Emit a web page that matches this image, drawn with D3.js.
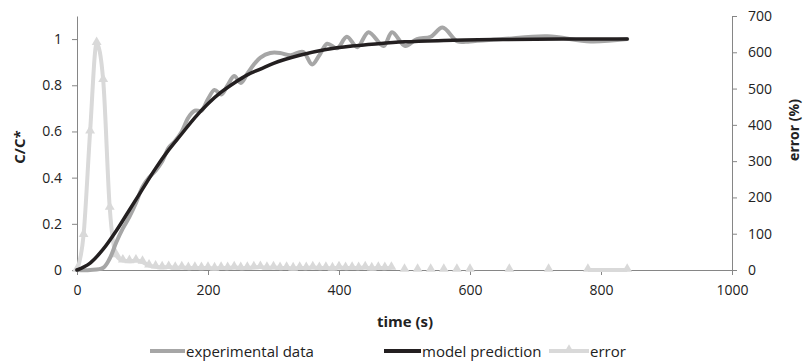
<!DOCTYPE html>
<html><head><meta charset="utf-8">
<script src="https://cdn.jsdelivr.net/npm/d3@7/dist/d3.min.js"></script>
<style>body{margin:0;background:#fff}svg{display:block}text{font-family:"Open Sans",sans-serif}</style>
</head><body><svg id="c" width="803" height="361"></svg>
<script>
// ---- data ----
const expTime = [0,20,40,50,60,70,80,90,100,110,120,130,140,150,160,170,180,190,200,210,220,230,240,250,260,270,280,295,310,326,345,359,370,382,397,412,428,445,468,481,501,519,540,558,581,600,650,718,784,840];
const expC    = [0,0,0.01,0.05,0.12,0.18,0.23,0.29,0.36,0.40,0.43,0.47,0.53,0.56,0.60,0.66,0.69,0.69,0.74,0.78,0.76,0.80,0.84,0.81,0.85,0.89,0.92,0.94,0.94,0.93,0.945,0.89,0.93,0.98,0.96,1.01,0.965,1.03,0.97,1.03,0.97,1.0,1.01,1.05,0.99,0.99,1.0,1.012,0.99,1.0];
const modelTime = [0,20,40,60,80,100,120,140,160,180,200,220,240,260,280,300,340,380,420,460,500,560,640,740,840];
const modelC    = [0,0.03,0.09,0.17,0.26,0.35,0.44,0.52,0.59,0.66,0.72,0.77,0.81,0.845,0.87,0.895,0.93,0.955,0.97,0.98,0.988,0.994,0.998,1.0,1.0];
const errTime = [0,10,20,30,40,50,60,70,80,90,100,110,120,130,140,150,160,170,180,190,200,210,220,230,240,250,260,270,280,290,300,310,320,330,340,350,360,370,380,390,400,410,420,430,440,450,460,470,480,490,500,510,520,530,540,550,560,570,580,590,600,630,660,690,720,750,780,840];
const errPct  = [0,96,381,625,523,171,40,26,24,26,22,12,9,7,8,6,7,5,6,5,6,4,6,5,7,5,6,7,8,6,7,5,6,4,6,5,7,5,6,4,7,5,6,5,7,4,6,5,6,null,0,null,0,null,0,null,0,null,0,null,0,null,0,null,0,null,0,0];
const xTicks = [0,200,400,600,800,1000];
const yLeftTicks = [0,0.2,0.4,0.6,0.8,1];
const yRightTicks = [0,100,200,300,400,500,600,700];
const legendLabels = ["experimental data","model prediction","error"];

// ---- chart ----
const svg = d3.select("#c");
const x = d3.scaleLinear().domain([0,1000]).range([77,732]);
const yL = d3.scaleLinear().domain([0,1.1]).range([270,16]);
const yR = d3.scaleLinear().domain([0,700]).range([270,16]);
const axisCol = "#868686", fs = "14px", fsBig = "15px";

function styleAxis(g){
  g.selectAll("path,line").attr("stroke",axisCol);
  g.selectAll("text").attr("fill","#222").style("font-size",fs);
}
svg.append("g").attr("transform","translate(0,270)")
  .call(d3.axisBottom(x).tickValues(xTicks).tickSize(5).tickSizeOuter(0).tickPadding(10).tickFormat(d3.format("d")))
  .call(styleAxis);
svg.append("g").attr("transform","translate(77,0)")
  .call(d3.axisLeft(yL).tickValues(yLeftTicks).tickSize(5).tickSizeOuter(0).tickPadding(10).tickFormat(d=>d3.format("~g")(d)))
  .call(styleAxis);
svg.append("g").attr("transform","translate(732,0)")
  .call(d3.axisRight(yR).tickValues(yRightTicks).tickSize(5).tickSizeOuter(0).tickPadding(11).tickFormat(d3.format("d")))
  .call(styleAxis);

// titles
svg.append("text").attr("x",405).attr("y",321).attr("text-anchor","middle").attr("dominant-baseline","central")
  .style("font-size",fsBig).style("font-weight","bold").attr("fill","#222").text("time (s)");
svg.append("text").attr("transform","translate(19,147) rotate(-90)").attr("text-anchor","middle").attr("dominant-baseline","central")
  .style("font-size",fsBig).style("font-weight","bold").attr("fill","#222").text("C/C*");
svg.append("text").attr("transform","translate(793,130) rotate(-90)").attr("text-anchor","middle").attr("dominant-baseline","central")
  .style("font-size",fs).style("font-weight","bold").attr("fill","#222").text("error (%)");

const expData = expTime.map((t,i)=>({t,v:expC[i]}));
const modData = modelTime.map((t,i)=>({t,v:modelC[i]}));
const errData = errTime.map((t,i)=>({t,v:errPct[i]}));

const colExp="#a6a6a6", colMod="#231f20", colErr="#d9d9d9";
const tri = d3.symbol().type(d3.symbolTriangle).size(42);

// error series
svg.append("path").datum(errData)
  .attr("d", d3.line().defined(d=>d.v!==null).x(d=>x(d.t)).y(d=>yR(d.v)).curve(d3.curveMonotoneX))
  .attr("fill","none").attr("stroke",colErr).attr("stroke-width",4).attr("stroke-linejoin","round");
svg.append("g").selectAll("path").data(errData.filter(d=>d.v!==null)).join("path")
  .attr("d",tri).attr("transform",d=>`translate(${x(d.t)},${yR(d.v)-1})`).attr("fill",colErr);

// experimental
svg.append("path").datum(expData)
  .attr("d", d3.line().x(d=>x(d.t)).y(d=>yL(d.v)).curve(d3.curveCatmullRom.alpha(0.5)))
  .attr("fill","none").attr("stroke",colExp).attr("stroke-width",4).attr("stroke-linejoin","round").attr("stroke-linecap","round");
// model
svg.append("path").datum(modData)
  .attr("d", d3.line().x(d=>x(d.t)).y(d=>yL(d.v)).curve(d3.curveMonotoneX))
  .attr("fill","none").attr("stroke",colMod).attr("stroke-width",3.5).attr("stroke-linecap","round");

// legend
const ly = 351;
const leg = [
  {x0:150,x1:185,col:colExp,w:4,label:legendLabels[0],tri:false},
  {x0:384,x1:421,col:colMod,w:4,label:legendLabels[1],tri:false},
  {x0:549,x1:589,col:colErr,w:4,label:legendLabels[2],tri:true}
];
leg.forEach(l=>{
  svg.append("line").attr("x1",l.x0).attr("x2",l.x1).attr("y1",ly).attr("y2",ly).attr("stroke",l.col).attr("stroke-width",l.w);
  if(l.tri) svg.append("path").attr("d",tri).attr("transform",`translate(${(l.x0+l.x1)/2},${ly-1})`).attr("fill",l.col);
  svg.append("text").attr("x",l.x1+1).attr("y",ly).attr("dominant-baseline","central").style("font-size",fsBig).attr("fill","#222").text(l.label);
});
</script></body></html>
